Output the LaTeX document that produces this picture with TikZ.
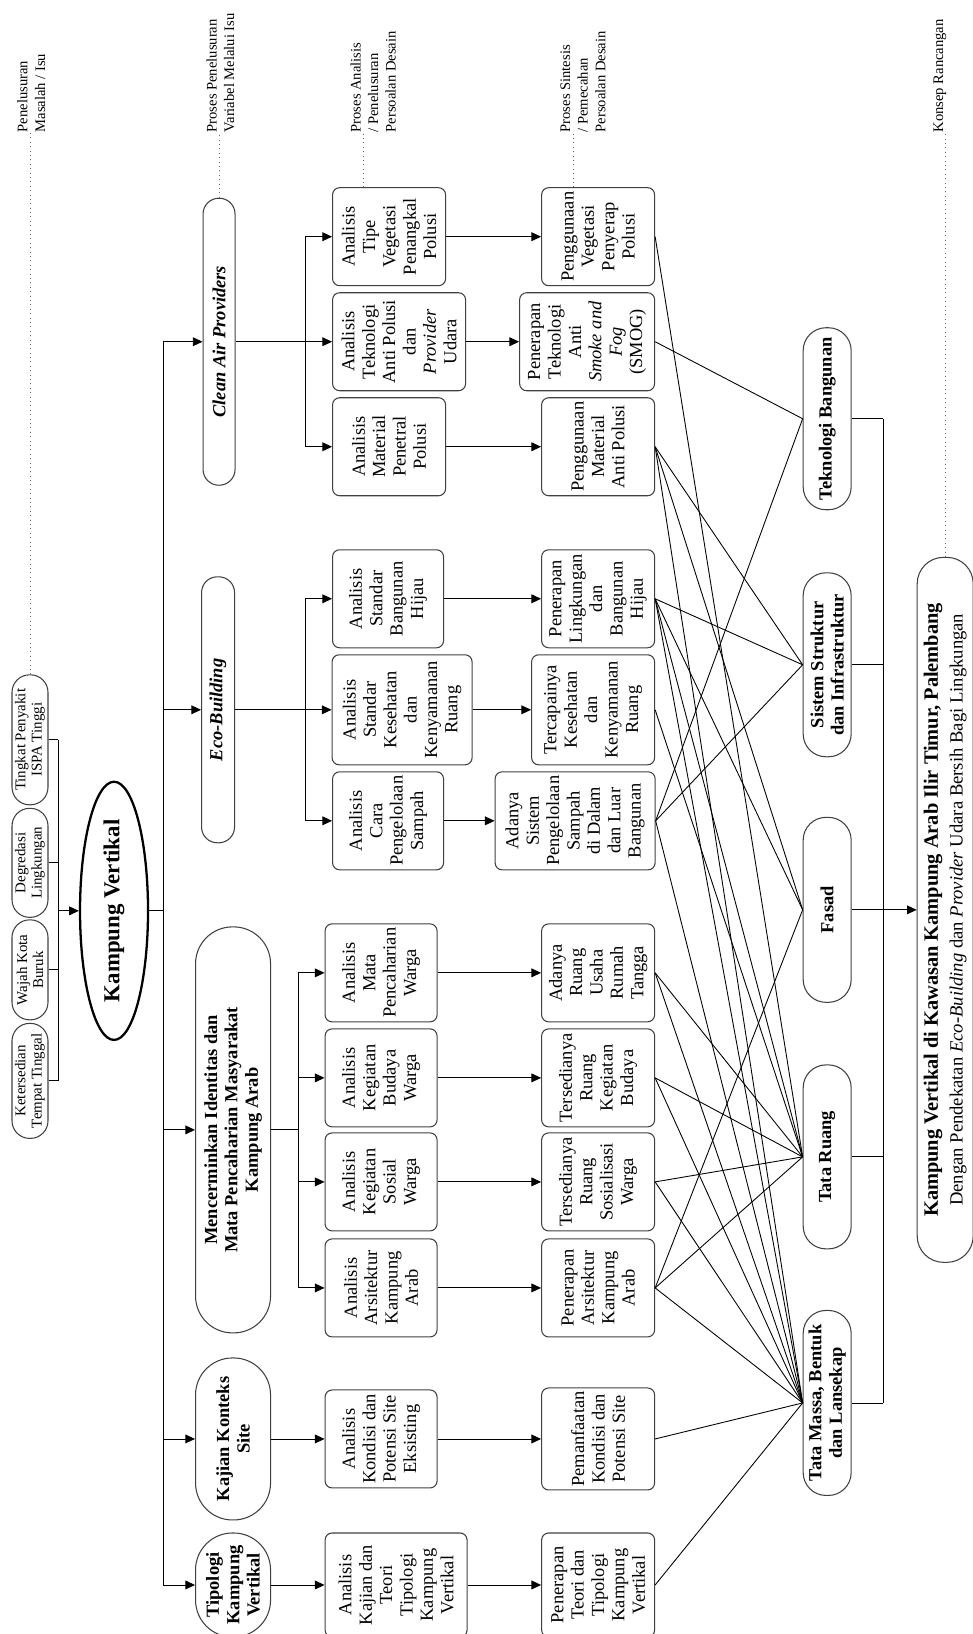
\documentclass[tikz,border=0pt]{standalone}
\usepackage{fontspec}
\setmainfont{Liberation Serif}
\usetikzlibrary{arrows.meta,shapes.geometric}

\tikzset{
  garis/.style={draw, line width=0.5pt},
  panah/.style={garis, -{Triangle[length=5.5pt,width=5pt]}},
  titik/.style={draw=black!60, dotted, line width=0.5pt},
  kotak/.style={draw=black!75, line width=0.6pt, rounded corners=4pt, align=center,
    inner sep=1pt, minimum width=1.96cm, minimum height=2.26cm,
    font=\fontsize{10.5}{11.6}\selectfont},
  kapsul/.style={draw=black!75, line width=0.6pt, rounded corners=#1, align=center,
    inner sep=1pt, font=\fontsize{10.5}{11.6}\selectfont\bfseries},
  masalah/.style={kapsul=10pt, minimum height=0.72cm, font=\fontsize{8.5}{9.2}\selectfont},
  konsep/.style={kapsul=13pt, minimum width=3.68cm, minimum height=0.96cm},
  catatan/.style={align=left, inner sep=0pt, anchor=north west, font=\fontsize{8.3}{10}\selectfont},
}

\begin{document}
\begin{tikzpicture}
  \useasboundingbox (0,0) rectangle (19.46,32.68);
  \begin{scope}[rotate=90, transform shape, x=0.02cm, y=0.02cm]
    % Masalah / isu
    \node[masalah, minimum width=2.3cm]  (ket)   at (553,-30) {Ketersedian\\Tempat Tinggal};
    \node[masalah, minimum width=2.0cm]  (wajah) at (664,-30) {Wajah Kota\\Buruk};
    \node[masalah, minimum width=2.18cm] (degr)  at (771,-30) {Degredasi\\Lingkungan};
    \node[masalah, minimum width=2.6cm]  (ispa)  at (894,-30) {Tingkat Penyakit\\ISPA Tinggi};
    \node[draw, ellipse, line width=1.3pt, minimum width=4.36cm, minimum height=1.36cm, inner sep=0pt,
      font=\fontsize{13}{15}\selectfont\bfseries] (kv) at (723,-114) {Kampung Vertikal};

    % Variabel
    \node[kapsul=21pt, minimum width=2.08cm, minimum height=1.5cm] (tipo) at (49,-233) {Tipologi\\Kampung\\Vertikal};
    \node[kapsul=21pt, minimum width=3.24cm, minimum height=1.5cm] (kajian) at (195,-233) {Kajian Konteks\\Site};
    \node[kapsul=21pt, minimum width=8.12cm, minimum height=1.5cm] (identitas) at (504,-233)
      {Mencerminkan Identitas dan\\Mata Pencaharian Masyarakat\\Kampung Arab};
    \node[kapsul=9pt, minimum width=5.32cm, minimum height=0.66cm,
      font=\fontsize{10.5}{11.6}\selectfont\bfseries\itshape] (eco) at (924,-218) {Eco-Building};
    \node[kapsul=9pt, minimum width=5.74cm, minimum height=0.64cm,
      font=\fontsize{10.5}{11.6}\selectfont\bfseries\itshape] (clean) at (1292,-219) {Clean Air Providers};

    % Analisis
    \node[kotak, minimum width=2.08cm, minimum height=2.84cm] (a1) at (49,-396) {Analisis\\Kajian dan\\Teori\\Tipologi\\Kampung\\Vertikal};
    \node[kotak, minimum height=2.24cm] (a2) at (195,-381) {Analisis\\Kondisi dan\\Potensi Site\\Eksisting};
    \node[kotak, minimum height=2.24cm] (a3) at (346,-381) {Analisis\\Arsitektur\\Kampung\\Arab};
    \node[kotak, minimum height=2.24cm] (a4) at (452,-381) {Analisis\\Kegiatan\\Sosial\\Warga};
    \node[kotak, minimum height=2.24cm] (a5) at (556,-381) {Analisis\\Kegiatan\\Budaya\\Warga};
    \node[kotak, minimum height=2.24cm] (a6) at (661,-381) {Analisis\\Mata\\Pencaharian\\Warga};
    \node[kotak, minimum height=2.22cm] (a7) at (813,-388) {Analisis\\Cara\\Pengelolaan\\Sampah};
    \node[kotak, minimum width=2.2cm, minimum height=2.8cm] (a8) at (924,-402) {Analisis\\Standar\\Kesehatan\\dan\\Kenyamanan\\Ruang};
    \node[kotak, minimum height=2.22cm] (a9) at (1035,-388) {Analisis\\Standar\\Bangunan\\Hijau};
    \node[kotak, minimum height=2.26cm] (a10) at (1187,-389) {Analisis\\Material\\Penetral\\Polusi};
    \node[kotak, minimum height=2.66cm] (a11) at (1292,-399) {Analisis\\Teknologi\\Anti Polusi\\dan\\\textit{Provider}\\Udara};
    \node[kotak, minimum height=2.26cm] (a12) at (1397,-389) {Analisis\\Tipe\\Vegetasi\\Penangkal\\Polusi};

    % Sintesis
    \node[kotak, minimum width=2.08cm] (b1) at (49,-598) {Penerapan\\Teori dan\\Tipologi\\Kampung\\Vertikal};
    \node[kotak, minimum width=2.04cm] (b2) at (195,-598) {Pemanfaatan\\Kondisi dan\\Potensi Site};
    \node[kotak] (b3) at (346,-598) {Penerapan\\Arsitektur\\Kampung\\Arab};
    \node[kotak] (b4) at (452,-598) {Tersedianya\\Ruang\\Sosialisasi\\Warga};
    \node[kotak] (b5) at (556,-598) {Tersedianya\\Ruang\\Kegiatan\\Budaya};
    \node[kotak] (b6) at (661,-598) {Adanya\\Ruang\\Usaha\\Rumah\\Tangga};
    \node[kotak, minimum height=3.2cm] (b7) at (813,-575) {Adanya\\Sistem\\Pengelolaan\\Sampah\\di Dalam\\dan Luar\\Bangunan};
    \node[kotak, minimum width=2.2cm, minimum height=2.46cm] (b8) at (924,-593) {Tercapainya\\Kesehatan\\dan\\Kenyamanan\\Ruang};
    \node[kotak] (b9) at (1035,-598) {Penerapan\\Lingkungan\\dan\\Bangunan\\Hijau};
    \node[kotak] (b10) at (1187,-598) {Penggunaan\\Material\\Anti Polusi};
    \node[kotak, minimum height=2.7cm] (b11) at (1292,-587) {Penerapan\\Teknologi\\Anti\\\textit{Smoke and}\\\textit{Fog}\\(SMOG)};
    \node[kotak] (b12) at (1397,-598) {Penggunaan\\Vegetasi\\Penyerap\\Polusi};

    % Konsep
    \node[konsep, minimum width=3.7cm] (c1) at (231,-827) {Tata Massa, Bentuk\\dan Lansekap};
    \node[konsep] (c2) at (477,-827) {Tata Ruang};
    \node[konsep, minimum width=3.7cm] (c3) at (724,-827) {Fasad};
    \node[konsep] (c4) at (969,-827) {Sistem Struktur\\dan Infrastruktur};
    \node[konsep, minimum width=3.64cm] (c5) at (1215,-827) {Teknologi Bangunan};
    \node[kapsul=15pt, minimum width=14.1cm, minimum height=1.12cm, font=\fontsize{10.6}{14}\selectfont] (akhir) at (724,-945)
      {{\bfseries\fontsize{11.6}{14}\selectfont Kampung Vertikal di Kawasan Kampung Arab Ilir Timur, Palembang}\\
       Dengan Pendekatan \textit{Eco-Building} dan \textit{Provider} Udara Bersih Bagi Lingkungan};

    % Garis masalah
    \coordinate (brkA) at (723,-58);
    \foreach \n in {ket,wajah,degr,ispa}
      \draw[garis] (\n.south) -- (\n.south |- brkA);
    \draw[garis] (ket.south |- brkA) -- (ispa.south |- brkA);
    \draw[panah] (brkA) -- (kv.north);

    % Garis variabel
    \coordinate (brkB) at (723,-163);
    \draw[garis] (kv.south) -- (brkB);
    \draw[garis] (tipo.north |- brkB) -- (clean.north |- brkB);
    \foreach \n in {tipo,kajian,identitas,eco,clean}
      \draw[panah] (\n.north |- brkB) -- (\n.north);

    \draw[panah] (tipo.south) -- (a1.north);
    \draw[panah] (kajian.south) -- (a2.north);
    \coordinate (brkC) at (504,-298);
    \coordinate (brkD) at (924,-305);
    \coordinate (brkE) at (1292,-305);
    \draw[garis] (identitas.south) -- (brkC);
    \draw[garis] (a3.north |- brkC) -- (a6.north |- brkC);
    \draw[garis] (eco.south) -- (brkD);
    \draw[garis] (a7.north |- brkD) -- (a9.north |- brkD);
    \draw[garis] (clean.south) -- (brkE);
    \draw[garis] (a10.north |- brkE) -- (a12.north |- brkE);
    \foreach \n in {a3,a4,a5,a6}
      \draw[panah] (\n.north |- brkC) -- (\n.north);
    \foreach \n in {a7,a8,a9}
      \draw[panah] (\n.north |- brkD) -- (\n.north);
    \foreach \n in {a10,a11,a12}
      \draw[panah] (\n.north |- brkE) -- (\n.north);

    % Analisis ke sintesis
    \foreach \i in {1,...,12}
      \draw[panah] (a\i.south) -- (b\i.north);

    % Sintesis ke konsep
    \foreach \s/\k in {b12/c2, b11/c5, b10/c4, b10/c3, b10/c1, b9/c4, b9/c3, b9/c2, b9/c1,
                       b8/c2, b7/c5, b7/c4, b7/c1, b6/c2, b6/c1, b5/c2, b5/c1, b4/c2, b4/c1,
                       b3/c3, b3/c2, b3/c1, b2/c1, b1/c1}
      \draw[garis] (\s.south) -- (\k.north);

    % Konsep ke hasil
    \coordinate (brkF) at (724,-883);
    \foreach \n in {c1,c2,c3,c4,c5}
      \draw[garis] (\n.south) -- (\n.south |- brkF);
    \draw[garis] (c1.south |- brkF) -- (c5.south |- brkF);
    \draw[panah] (c3.south) -- (akhir.north);

    % Keterangan tahap
    \coordinate (tpA) at (1501,-30);
    \coordinate (tpB) at (1501,-219);
    \coordinate (tpC) at (1501,-363);
    \coordinate (tpD) at (1501,-573);
    \coordinate (tpE) at (1501,-945);
    \draw[titik] (ispa.east) -- (tpA);
    \draw[titik] (clean.east) -- (tpB);
    \draw[titik] (a12.east |- tpC) -- (tpC);
    \draw[titik] (b12.east |- tpD) -- (tpD);
    \draw[titik] (akhir.east) -- (tpE);
    \node[catatan] (tA) at (1501,-17) {Penelusuran\\Masalah / Isu};
    \node[catatan] (tB) at (1501,-206) {Proses Penelusuran\\Variabel Melalui Isu};
    \node[catatan] (tC) at (1501,-350) {Proses Analisis\\/ Penelusuran\\Persoalan Desain};
    \node[catatan] (tD) at (1501,-560) {Proses Sintesis\\/ Pemecahan\\Persoalan Desain};
    \node[catatan] (tE) at (1501,-933) {Konsep Rancangan};
  \end{scope}
\end{tikzpicture}
\end{document}
